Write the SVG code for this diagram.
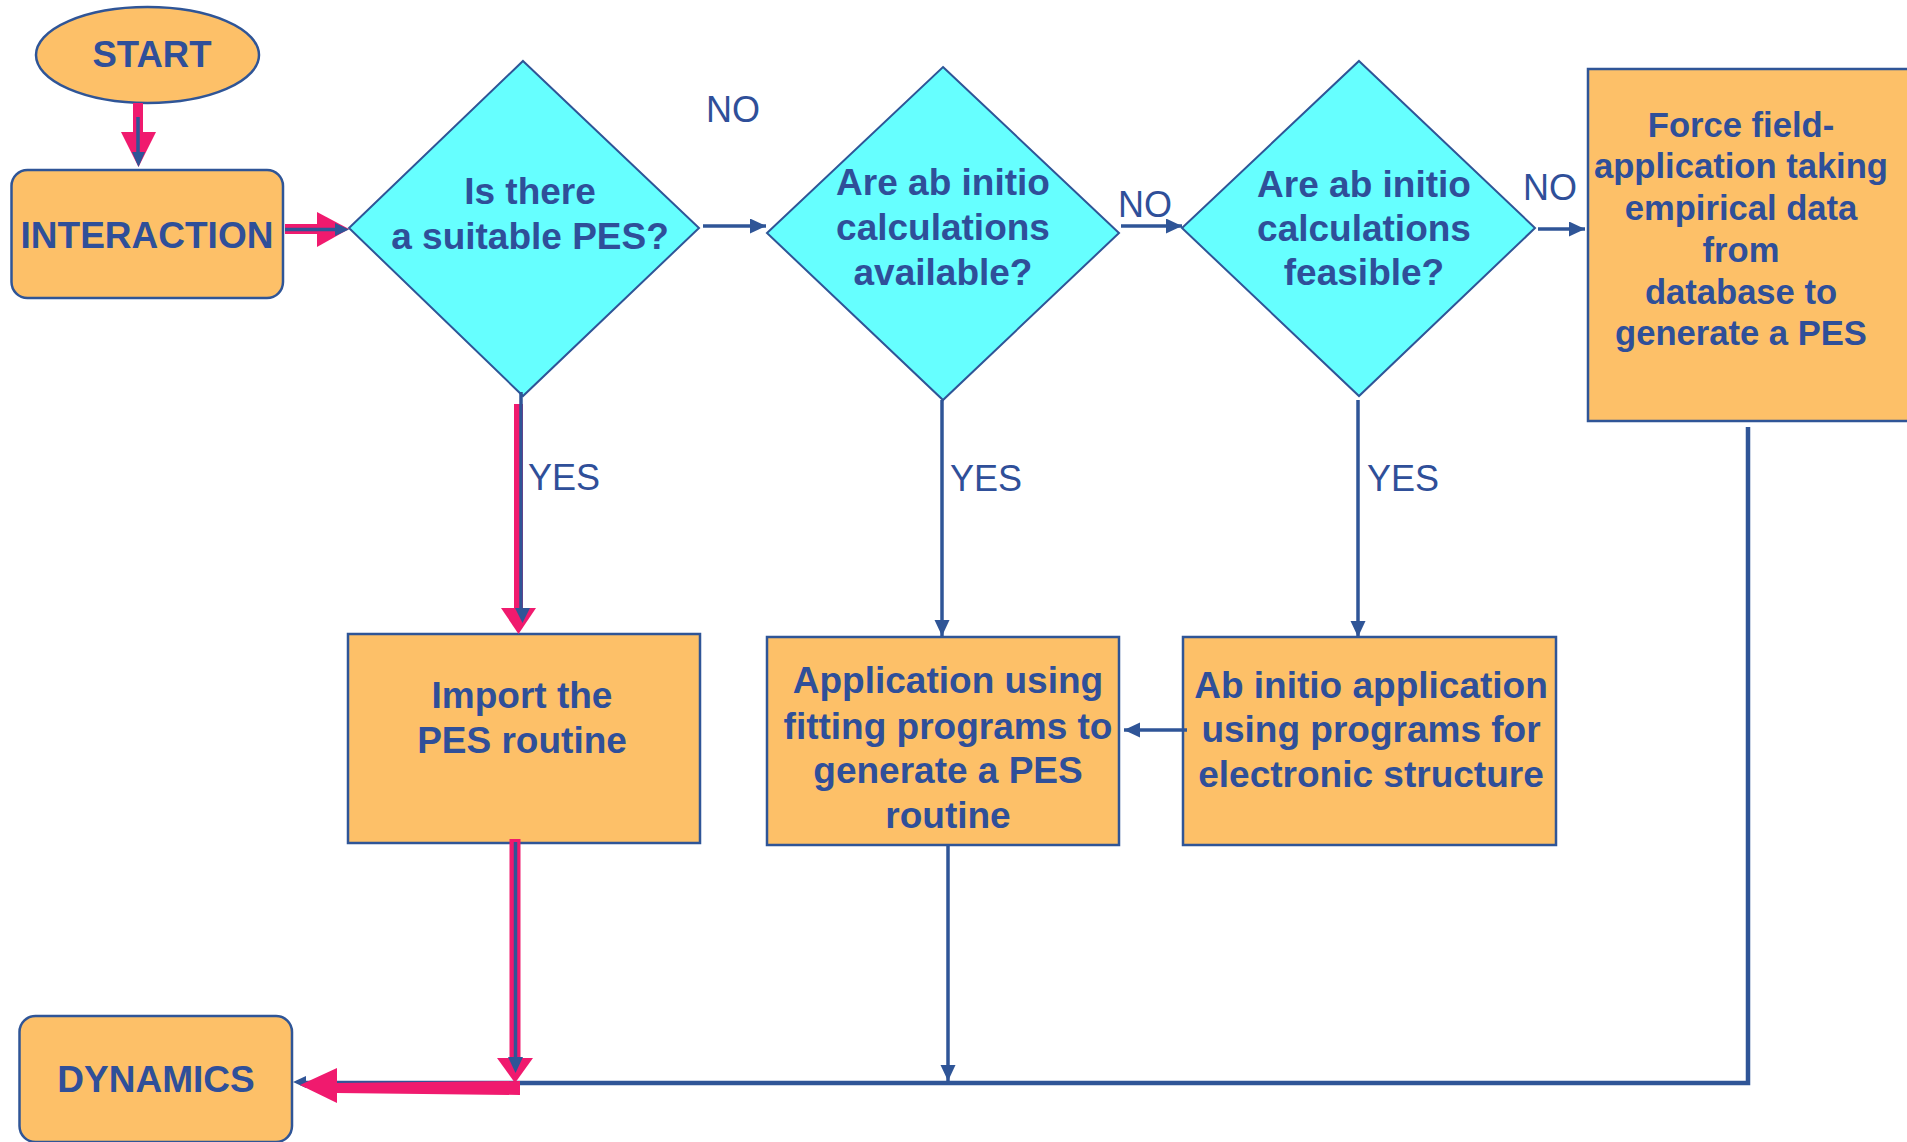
<svg xmlns="http://www.w3.org/2000/svg" width="1907" height="1142" viewBox="0 0 1907 1142">
<style>
.box{fill:#FDC068;stroke:#2F5597;stroke-width:2.5}
.dia{fill:#66FFFF;stroke:#2F5597;stroke-width:2}
.t{font-family:"Liberation Sans",Arial,sans-serif;font-weight:bold;fill:#2F4F99;text-anchor:middle}
.lbl{font-family:"Liberation Sans",Arial,sans-serif;font-size:36px;fill:#2F4F99}
.ln{fill:none;stroke:#2F5597;stroke-width:3.5}
.pk{fill:#F01A6E}
.bh{fill:#2F5597}
</style>
<defs>
<marker id="ah" markerUnits="userSpaceOnUse" markerWidth="17" markerHeight="16" refX="16" refY="7.5" orient="auto">
<path d="M0,0 L16,7.5 L0,15 z" fill="#2F5597"/>
</marker>
</defs>
<rect width="1907" height="1142" fill="#FFFFFF"/>

<g id="start">
<ellipse cx="147.5" cy="55" rx="111.5" ry="48" class="box" stroke-width="2"/>
<text class="t" x="152" y="67" font-size="36.5">START</text>
</g>

<g id="interaction">
<rect x="11.5" y="170" width="271.5" height="128" rx="16" class="box"/>
<text class="t" x="147" y="248" font-size="37">INTERACTION</text>
</g>

<g id="q1">
<polygon points="523,61 699,228 523,396 349,228" class="dia"/>
<text class="t" x="530" y="204" font-size="37">Is there</text>
<text class="t" x="530" y="249" font-size="37">a suitable PES?</text>
</g>

<g id="q2">
<polygon points="943,67 1119,233 943,400 767,233" class="dia"/>
<text class="t" x="943" y="195" font-size="37">Are ab initio</text>
<text class="t" x="943" y="240" font-size="37">calculations</text>
<text class="t" x="943" y="285" font-size="37">available?</text>
</g>

<g id="q3">
<polygon points="1359,61 1535,228 1359,396 1182,228" class="dia"/>
<text class="t" x="1364" y="197" font-size="37">Are ab initio</text>
<text class="t" x="1364" y="241" font-size="37">calculations</text>
<text class="t" x="1364" y="285" font-size="37">feasible?</text>
</g>

<g id="forcefield">
<rect x="1588" y="69" width="330" height="352" class="box"/>
<text class="t" x="1741" y="137" font-size="34.6">Force field-</text>
<text class="t" x="1741" y="178" font-size="34.6">application taking</text>
<text class="t" x="1741" y="220" font-size="34.6">empirical data</text>
<text class="t" x="1741" y="262" font-size="34.6">from</text>
<text class="t" x="1741" y="304" font-size="34.6">database to</text>
<text class="t" x="1741" y="345" font-size="34.6">generate a PES</text>
</g>

<g id="import">
<rect x="348" y="634" width="352" height="209" class="box"/>
<text class="t" x="522" y="708" font-size="37">Import the</text>
<text class="t" x="522" y="753" font-size="37">PES routine</text>
</g>

<g id="fitting">
<rect x="767" y="637" width="352" height="208" class="box"/>
<text class="t" x="948" y="693" font-size="37">Application using</text>
<text class="t" x="948" y="739" font-size="37">fitting programs to</text>
<text class="t" x="948" y="783" font-size="37">generate a PES</text>
<text class="t" x="948" y="828" font-size="37">routine</text>
</g>

<g id="abinitio">
<rect x="1183" y="637" width="373" height="208" class="box"/>
<text class="t" x="1371" y="698" font-size="37">Ab initio application</text>
<text class="t" x="1371" y="742" font-size="37">using programs for</text>
<text class="t" x="1371" y="787" font-size="37">electronic structure</text>
</g>

<g id="dynamics">
<rect x="19.5" y="1016" width="272.5" height="126" rx="16" class="box"/>
<text class="t" x="156" y="1092" font-size="37">DYNAMICS</text>
</g>

<g id="connectors">
<line x1="703" y1="226" x2="766" y2="226" class="ln" marker-end="url(#ah)"/>
<line x1="1121" y1="226" x2="1182" y2="226" class="ln" marker-end="url(#ah)"/>
<line x1="1538" y1="229" x2="1585" y2="229" class="ln" marker-end="url(#ah)"/>
<line x1="942" y1="400" x2="942" y2="636" class="ln" marker-end="url(#ah)"/>
<line x1="1358" y1="400" x2="1358" y2="637" class="ln" marker-end="url(#ah)"/>
<line x1="1187" y1="730" x2="1124" y2="730" class="ln" marker-end="url(#ah)"/>
<line x1="948" y1="845" x2="948" y2="1081" class="ln" marker-end="url(#ah)"/>
<polyline points="1748,427 1748,1083 300,1083" fill="none" stroke="#2F5597" stroke-width="4.5"/>
<polygon points="306,1076 293,1082 306,1088" class="bh"/>

<rect x="133" y="103" width="10" height="30" class="pk"/>
<polygon points="121,132 156,132 138.5,167" class="pk"/>
<line x1="138" y1="117" x2="138" y2="153" class="ln"/>
<polygon points="132,152 145,152 138.5,167" class="bh"/>

<rect x="285" y="224" width="33" height="10" class="pk"/>
<polygon points="317,212 349,229 317,247" class="pk"/>
<line x1="285" y1="229.5" x2="336" y2="229.5" class="ln"/>
<polygon points="335,223 349,229.5 335,236" class="bh"/>

<rect x="514" y="404" width="9" height="205" class="pk"/>
<polygon points="501,608 536,608 518.5,634" class="pk"/>
<line x1="521" y1="392" x2="521" y2="609" class="ln"/>
<polygon points="515,608 530,608 522.5,623" class="bh"/>

<rect x="509.5" y="839" width="11" height="220" class="pk"/>
<polygon points="497,1058 533,1058 515,1083" class="pk"/>
<line x1="515.5" y1="842" x2="515.5" y2="1058" class="ln"/>
<polygon points="508,1057 523,1057 515.5,1073" class="bh"/>
<polygon points="520,1081 520,1095 336,1093 336,1083" class="pk"/>
<polygon points="337,1068 300,1085 337,1103" class="pk"/>
</g>

<g id="labels">
<text class="lbl" x="706" y="122">NO</text>
<text class="lbl" x="1118" y="217">NO</text>
<text class="lbl" x="1523" y="200">NO</text>
<text class="lbl" x="528" y="490">YES</text>
<text class="lbl" x="950" y="491">YES</text>
<text class="lbl" x="1367" y="491">YES</text>
</g>
</svg>
